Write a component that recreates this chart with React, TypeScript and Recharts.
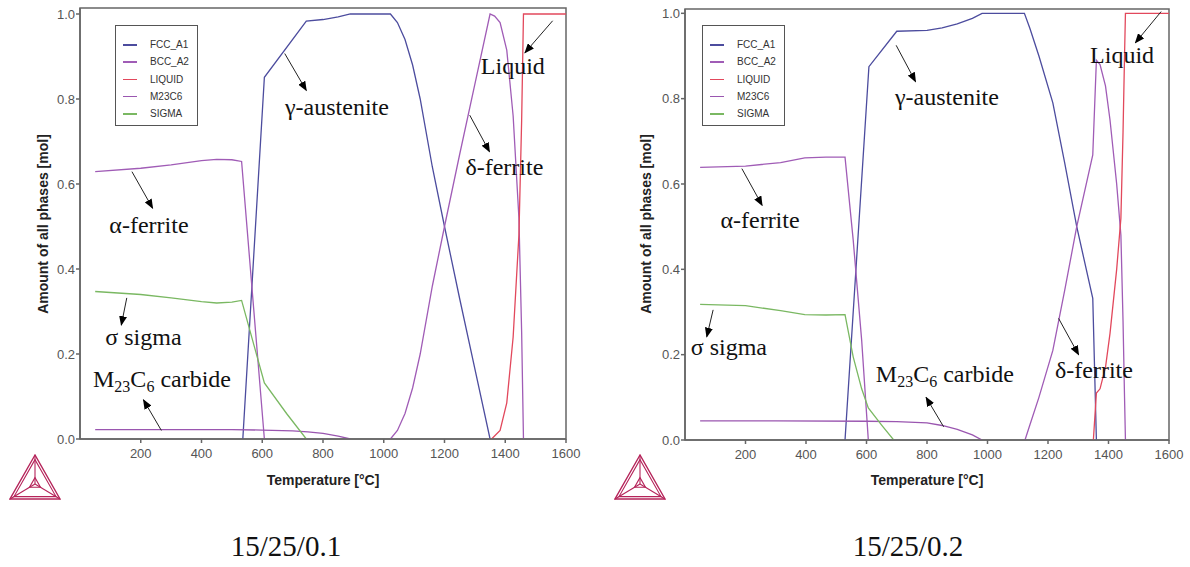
import React from "react";
import {
  LineChart,
  Line,
  XAxis,
  YAxis,
  ReferenceArea,
  ReferenceLine,
  ReferenceDot,
  Legend,
} from "recharts";

const PHASES = ["FCC_A1", "BCC_A2", "LIQUID", "M23C6", "SIGMA"];
const PHASE_COLORS = ["#4c4c9e", "#a05cb6", "#e2485c", "#9a56b0", "#7ab862"];

const X_TICKS = [200, 400, 600, 800, 1000, 1200, 1400, 1600];
const Y_TICKS = [0, 0.2, 0.4, 0.6, 0.8, 1.0];

// ---- 15/25/0.1 ----
const fcc1T = [536, 607, 745, 800, 850, 890, 1022, 1045, 1070, 1095, 1120, 1160, 1200, 1250, 1300, 1350];
const fcc1V = [0, 0.851, 0.983, 0.987, 0.993, 1.0, 1.0, 0.98, 0.94, 0.88, 0.8, 0.64, 0.5, 0.33, 0.165, 0];

const bcc1T = [50, 200, 300, 400, 450, 500, 532, 607, 800, 1022, 1045, 1070, 1095, 1120, 1160, 1200, 1250, 1300, 1350, 1365, 1383, 1405, 1426, 1445, 1454, 1460];
const bcc1V = [0.629, 0.637, 0.645, 0.655, 0.658, 0.657, 0.653, 0, null, 0, 0.02, 0.06, 0.12, 0.2, 0.36, 0.5, 0.67, 0.835, 1.0, 0.995, 0.98, 0.915, 0.76, 0.52, 0.25, 0];

const liq1T = [1355, 1383, 1405, 1426, 1445, 1454, 1460, 1600];
const liq1V = [0, 0.02, 0.085, 0.24, 0.48, 0.75, 1.0, 1.0];

const m1T = [50, 300, 500, 600, 700, 750, 800, 850, 890];
const m1V = [0.022, 0.022, 0.022, 0.021, 0.019, 0.017, 0.013, 0.007, 0];

const sig1T = [50, 200, 300, 400, 450, 500, 532, 607, 680, 745];
const sig1V = [0.347, 0.34, 0.332, 0.323, 0.32, 0.322, 0.326, 0.132, 0.06, 0];

// ---- 15/25/0.2 ----
const fcc2T = [529, 608, 700, 800, 850, 900, 950, 982, 1122, 1140, 1170, 1216, 1255, 1295, 1348, 1360];
const fcc2V = [0, 0.875, 0.958, 0.96, 0.966, 0.975, 0.988, 1.0, 1.0, 0.965, 0.9, 0.79, 0.65, 0.5, 0.332, 0];

const bcc2T = [50, 200, 316, 396, 466, 529, 556, 584, 606, 900, 1124, 1140, 1170, 1216, 1255, 1295, 1348, 1360, 1372, 1390, 1405, 1427, 1441, 1448, 1453, 1456];
const bcc2V = [0.639, 0.642, 0.65, 0.661, 0.663, 0.663, 0.469, 0.234, 0, null, 0, 0.035, 0.1, 0.21, 0.35, 0.5, 0.668, 0.89, 0.88, 0.83, 0.75, 0.6, 0.48, 0.28, 0.1, 0];

const liq2T = [1350, 1360, 1372, 1390, 1405, 1427, 1441, 1448, 1453, 1456, 1600];
const liq2V = [0, 0.11, 0.12, 0.17, 0.25, 0.4, 0.52, 0.72, 0.9, 1.0, 1.0];

const m2T = [50, 300, 600, 700, 800, 850, 900, 950, 982];
const m2V = [0.045, 0.045, 0.044, 0.043, 0.04, 0.034, 0.025, 0.012, 0];

const sig2T = [50, 200, 316, 396, 466, 529, 556, 584, 606, 650, 690];
const sig2V = [0.318, 0.315, 0.303, 0.294, 0.293, 0.294, 0.195, 0.12, 0.075, 0.035, 0];

// annotation anchors (temperature, amount)
const labels1 = [
  { text: "γ-austenite", t: 846, v: 0.762 },
  { text: "Liquid", t: 1425, v: 0.859 },
  { text: "δ-ferrite", t: 1397, v: 0.621 },
  { text: "α-ferrite", t: 227, v: 0.485 },
  { text: "σ sigma", t: 209, v: 0.221 },
  { text: "M23C6", t: 270, v: 0.123 },
];
const arrows1 = [
  [674, 0.907, 745, 0.82],
  [1556, 0.984, 1465, 0.909],
  [1283, 0.762, 1348, 0.676],
  [171, 0.629, 239, 0.543],
  [154, 0.332, 136, 0.268],
  [268, 0.02, 209, 0.092],
];

const labels2 = [
  { text: "γ-austenite", t: 866, v: 0.785 },
  { text: "Liquid", t: 1445, v: 0.883 },
  { text: "δ-ferrite", t: 1352, v: 0.145 },
  { text: "α-ferrite", t: 248, v: 0.497 },
  { text: "σ sigma", t: 145, v: 0.2 },
  { text: "M23C6", t: 859, v: 0.137 },
];
const arrows2 = [
  [698, 0.925, 762, 0.84],
  [1574, 1.004, 1489, 0.931],
  [1235, 0.285, 1301, 0.2],
  [188, 0.636, 255, 0.55],
  [93, 0.305, 72, 0.242],
  [855, 0.031, 797, 0.1],
];

const zip = (t: number[], v: (number | null)[]) => t.map((x, i) => ({ t: x, v: v[i] }));

const SANS = "'Liberation Sans', Arial, sans-serif";
const SERIF = "'Liberation Serif', 'Times New Roman', serif";
const FRAME = "#666";

function AnnotationText({ cx, cy, text }: any) {
  if (text === "M23C6") {
    return (
      <text x={cx} y={cy} textAnchor="middle" fontFamily={SERIF} fontSize={24} fill="#111">
        <tspan>M</tspan>
        <tspan fontSize={16} dy={5}>23</tspan>
        <tspan dy={-5}>C</tspan>
        <tspan fontSize={16} dy={5}>6</tspan>
        <tspan dy={-5}> carbide</tspan>
      </text>
    );
  }
  return (
    <text x={cx} y={cy} textAnchor="middle" fontFamily={SERIF} fontSize={24} fill="#111">
      {text}
    </text>
  );
}

function LegendBox() {
  return (
    <div
      style={{
        position: "relative",
        width: 83,
        height: 101,
        boxSizing: "border-box",
        border: "1.5px solid #555",
        background: "#fff",
        fontFamily: SANS,
        fontSize: 10,
        color: "#333",
      }}
    >
      {PHASES.map((name, i) => (
        <div key={name} style={{ position: "absolute", left: 0, top: 12 + i * 17.3, height: 14, width: 80 }}>
          <span
            style={{
              position: "absolute",
              left: 7,
              top: 6,
              width: 14,
              height: 1.5,
              background: PHASE_COLORS[i],
            }}
          />
          <span style={{ position: "absolute", left: 34, top: 0, lineHeight: "14px" }}>{name}</span>
        </div>
      ))}
    </div>
  );
}

function Logo() {
  const c = "#b5245a";
  const cx = 26;
  const cy = 30;
  const outer = [
    [26, 1],
    [1, 45],
    [51, 45],
  ];
  const scaled = (k: number) => outer.map(([x, y]) => `${cx + (x - cx) * k},${cy + (y - cy) * k}`).join(" ");
  return (
    <svg width={54} height={48} style={{ position: "absolute", left: 9, top: 454 }}>
      <polygon points={scaled(1)} fill="none" stroke={c} strokeWidth={1.4} />
      <polygon points={scaled(0.84)} fill="none" stroke={c} strokeWidth={1.1} />
      <polygon points={scaled(0.22)} fill="none" stroke={c} strokeWidth={1.1} />
      {outer.map(([x, y], i) => (
        <line key={i} x1={cx} y1={cy} x2={x} y2={y} stroke={c} strokeWidth={1.1} />
      ))}
    </svg>
  );
}

interface PanelProps {
  left: number;
  width: number;
  marginTop: number;
  marginRight: number;
  xAxisHeight: number;
  yMax: number;
  legendLeft: number;
  yTitleX: number;
  captionX: number;
  caption: string;
  series: { t: number; v: number | null }[][];
  labels: { text: string; t: number; v: number }[];
  arrows: number[][];
}

function PhasePanel(p: PanelProps) {
  const plotRight = p.width - p.marginRight;
  const plotMid = (80 + plotRight) / 2;
  return (
    <div style={{ position: "absolute", left: p.left, top: 0, width: p.width, height: 567 }}>
      <LineChart
        width={p.width}
        height={500}
        margin={{ top: p.marginTop, right: p.marginRight, bottom: 0, left: 0 }}
      >
        <XAxis
          type="number"
          dataKey="t"
          domain={[0, 1600]}
          ticks={X_TICKS}
          allowDataOverflow
          height={p.xAxisHeight}
          tickSize={4}
          tickMargin={6}
          stroke={FRAME}
          strokeWidth={1.5}
          tick={{ fill: "#555", fontSize: 13, fontFamily: SANS }}
        />
        <YAxis
          type="number"
          dataKey="v"
          domain={[0, p.yMax]}
          ticks={Y_TICKS}
          allowDataOverflow
          width={80}
          tickSize={4}
          tickMargin={1}
          stroke={FRAME}
          strokeWidth={1.5}
          tickFormatter={(v: number) => v.toFixed(1)}
          tick={{ fill: "#555", fontSize: 13, fontFamily: SANS }}
        />
        <ReferenceArea x1={0} x2={1600} y1={0} y2={p.yMax} fill="none" stroke={FRAME} strokeWidth={1.5} />
        {p.series.map((data, i) => (
          <Line
            key={PHASES[i]}
            name={PHASES[i]}
            data={data}
            dataKey="v"
            type="linear"
            stroke={PHASE_COLORS[i]}
            strokeWidth={1.3}
            dot={false}
            activeDot={false}
            connectNulls={false}
            isAnimationActive={false}
          />
        ))}
        {p.arrows.map(([t1, v1, t2, v2], i) => (
          <ReferenceLine
            key={`a${i}`}
            segment={[
              { x: t1, y: v1 },
              { x: t2, y: v2 },
            ]}
            stroke="#222"
            shape={(s: any) => (
              <line
                x1={s.x1}
                y1={s.y1}
                x2={s.x2}
                y2={s.y2}
                stroke="#222"
                strokeWidth={1}
                markerEnd="url(#arrowHead)"
              />
            )}
          />
        ))}
        {p.labels.map((l, i) => (
          <ReferenceDot
            key={`l${i}`}
            x={l.t}
            y={l.v}
            r={1}
            shape={(s: any) => <AnnotationText cx={s.cx} cy={s.cy} text={l.text} />}
          />
        ))}
        <Legend
          layout="vertical"
          align="center"
          verticalAlign="middle"
          wrapperStyle={{ left: p.legendLeft, top: 25, width: 83, height: 101 }}
          content={() => <LegendBox />}
        />
      </LineChart>

      <div
        style={{
          position: "absolute",
          left: p.yTitleX,
          top: 224,
          transform: "translate(-50%, -50%) rotate(-90deg)",
          whiteSpace: "nowrap",
          fontFamily: SANS,
          fontWeight: "bold",
          fontSize: 14,
          color: "#222",
        }}
      >
        Amount of all phases [mol]
      </div>
      <div
        style={{
          position: "absolute",
          left: plotMid,
          top: 480,
          transform: "translate(-50%, -50%)",
          whiteSpace: "nowrap",
          fontFamily: SANS,
          fontWeight: "bold",
          fontSize: 14,
          color: "#222",
        }}
      >
        Temperature [°C]
      </div>
      <Logo />
      <div
        style={{
          position: "absolute",
          left: p.captionX,
          top: 532,
          transform: "translateX(-50%)",
          whiteSpace: "nowrap",
          fontFamily: SERIF,
          fontSize: 29,
          lineHeight: 1,
          color: "#111",
        }}
      >
        {p.caption}
      </div>
    </div>
  );
}

export default function App() {
  const series1 = [zip(fcc1T, fcc1V), zip(bcc1T, bcc1V), zip(liq1T, liq1V), zip(m1T, m1V), zip(sig1T, sig1V)];
  const series2 = [zip(fcc2T, fcc2V), zip(bcc2T, bcc2V), zip(liq2T, liq2V), zip(m2T, m2V), zip(sig2T, sig2V)];
  return (
    <div style={{ position: "relative", width: 1190, height: 567, background: "#fff", overflow: "hidden" }}>
      <style>{`body{margin:0}`}</style>
      <svg width={0} height={0} style={{ position: "absolute" }}>
        <defs>
          <marker
            id="arrowHead"
            markerWidth={10}
            markerHeight={8}
            refX={9}
            refY={4}
            orient="auto"
            markerUnits="userSpaceOnUse"
          >
            <path d="M0,0 L10,4 L0,8 z" fill="#000" />
          </marker>
        </defs>
      </svg>
      <PhasePanel
        left={0}
        width={600}
        marginTop={8}
        marginRight={34}
        xAxisHeight={61}
        yMax={1.0141}
        legendLeft={115}
        yTitleX={42.5}
        captionX={286}
        caption="15/25/0.1"
        series={series1}
        labels={labels1}
        arrows={arrows1}
      />
      <PhasePanel
        left={605}
        width={585}
        marginTop={9}
        marginRight={21}
        xAxisHeight={60}
        yMax={1.0101}
        legendLeft={97}
        yTitleX={40.5}
        captionX={303}
        caption="15/25/0.2"
        series={series2}
        labels={labels2}
        arrows={arrows2}
      />
    </div>
  );
}
